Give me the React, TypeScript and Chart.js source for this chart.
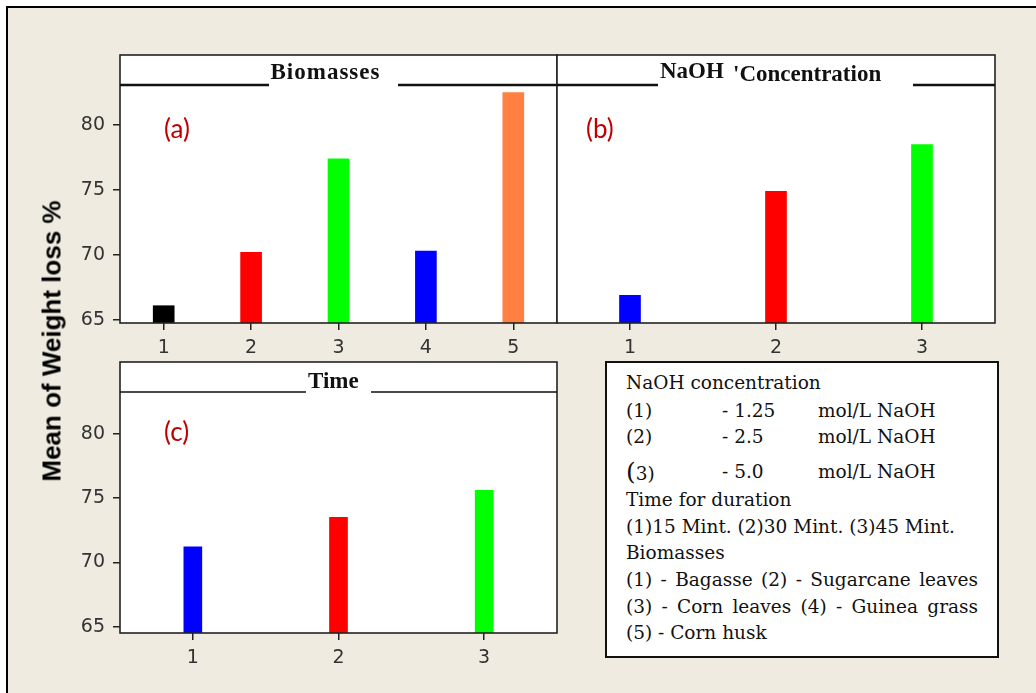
import React, { useEffect, useRef } from "react";
import { Chart, registerables } from "chart.js";

Chart.register(...registerables);

// ---------- data ----------
const biomassLabels = ["1", "2", "3", "4", "5"];
const biomassValues = [66.1, 70.2, 77.4, 70.3, 82.5];
const biomassColors = ["#000000", "#FF0000", "#00FF00", "#0000FF", "#FF8040"];

const naohLabels = ["1", "2", "3"];
const naohValues = [66.9, 74.9, 78.5];
const naohColors = ["#0000FF", "#FF0000", "#00FF00"];

const timeLabels = ["1", "2", "3"];
const timeValues = [71.2, 73.5, 75.6];
const timeColors = ["#0000FF", "#FF0000", "#00FF00"];

const yTickValues = [65, 70, 75, 80];

const yAxisTitle = "Mean of Weight loss %";

const legendNaohTitle = "NaOH concentration";
const legendNaohRows = [
  ["(1)", "- 1.25", "mol/L NaOH"],
  ["(2)", "- 2.5", "mol/L NaOH"],
  ["(3)", "- 5.0", "mol/L NaOH"],
];
const legendTimeTitle = "Time for duration";
const legendTimeRow = "(1)15 Mint. (2)30 Mint. (3)45 Mint.";
const legendBiomassTitle = "Biomasses";
const legendBiomassRows = [
  "(1) - Bagasse (2) - Sugarcane leaves",
  "(3) - Corn leaves (4) - Guinea grass",
  "(5) - Corn husk",
];

// ---------- helpers ----------
const tickFont = { family: '"DejaVu Sans", sans-serif', size: 19 };

function xAxis(height: number) {
  return {
    type: "category",
    offset: true,
    grid: {
      display: true,
      drawOnChartArea: false,
      drawTicks: true,
      tickLength: 7,
      color: "#222",
      lineWidth: 1.5,
      offset: false,
    },
    border: { display: false },
    ticks: { color: "#333", font: tickFont, padding: 7, maxRotation: 0 },
    afterFit: (s: any) => {
      s.height = height;
    },
  };
}

function yAxis(min: number, max: number, show: boolean) {
  return {
    display: show,
    min,
    max,
    grid: {
      display: true,
      drawOnChartArea: false,
      drawTicks: true,
      tickLength: 7,
      color: "#222",
      lineWidth: 1.5,
    },
    border: { display: false },
    ticks: { color: "#333", font: tickFont, padding: 8 },
    afterBuildTicks: (s: any) => {
      s.ticks = yTickValues.map((v) => ({ value: v }));
    },
    afterFit: (s: any) => {
      if (show) s.width = 120;
    },
  };
}

type Title = { text: string; x: number; y: number; spacing?: number };
type FrameCfg = {
  headerH: number;
  lineWidth: number;
  gapFrom: number;
  gapTo: number;
  titles: Title[];
  tag: string;
  tagX: number;
  tagY: number;
};

function framePlugin(cfg: FrameCfg) {
  return {
    id: "panelFrame",
    beforeDraw(chart: any) {
      const { ctx, chartArea: a } = chart;
      ctx.save();
      ctx.fillStyle = "#ffffff";
      ctx.fillRect(a.left, a.top - cfg.headerH, a.right - a.left, a.bottom - a.top + cfg.headerH);
      ctx.restore();
    },
    afterDraw(chart: any) {
      const { ctx, chartArea: a } = chart;
      ctx.save();
      ctx.strokeStyle = "#222";
      ctx.lineWidth = 1.6;
      ctx.strokeRect(a.left, a.top - cfg.headerH, a.right - a.left, a.bottom - a.top + cfg.headerH);
      ctx.lineWidth = cfg.lineWidth;
      ctx.strokeStyle = "#111";
      ctx.beginPath();
      ctx.moveTo(a.left, a.top);
      ctx.lineTo(cfg.gapFrom, a.top);
      ctx.moveTo(cfg.gapTo, a.top);
      ctx.lineTo(a.right, a.top);
      ctx.stroke();
      ctx.fillStyle = "#111";
      ctx.textBaseline = "middle";
      ctx.textAlign = "left";
      ctx.font = 'bold 23px "Liberation Serif", serif';
      for (const t of cfg.titles) {
        (ctx as any).letterSpacing = (t.spacing || 0) + "px";
        ctx.fillText(t.text, t.x, t.y);
      }
      (ctx as any).letterSpacing = "0px";
      ctx.font = '26px Lato, "Open Sans", sans-serif';
      ctx.fillStyle = "#C00000";
      ctx.fillText(cfg.tag, cfg.tagX, cfg.tagY);
      ctx.restore();
    },
  };
}

function barConfig(
  labels: string[],
  values: number[],
  colors: string[],
  thickness: number,
  yMin: number,
  yMax: number,
  showY: boolean,
  xHeight: number,
  padding: any,
  frame: FrameCfg
): any {
  return {
    type: "bar",
    data: {
      labels,
      datasets: [
        {
          data: values,
          backgroundColor: colors,
          borderWidth: 0,
          barThickness: thickness,
          base: yMin,
        },
      ],
    },
    options: {
      responsive: false,
      animation: false,
      layout: { padding },
      plugins: { legend: { display: false }, tooltip: { enabled: false } },
      scales: {
        x: xAxis(xHeight),
        y: yAxis(yMin, yMax, showY),
      },
    },
    plugins: [framePlugin(frame)],
  };
}

function ChartCanvas(props: { left: number; top: number; width: number; height: number; make: () => any }) {
  const ref = useRef<HTMLCanvasElement | null>(null);
  useEffect(() => {
    if (!ref.current) return;
    const chart = new Chart(ref.current, props.make());
    return () => chart.destroy();
  }, []);
  return (
    <canvas
      ref={ref}
      width={props.width}
      height={props.height}
      style={{ position: "absolute", left: props.left, top: props.top, width: props.width, height: props.height }}
    />
  );
}

const makeA = () =>
  barConfig(biomassLabels, biomassValues, biomassColors, 21, 64.77, 83.08, true, 47,
    { top: 85, right: 13, left: 0, bottom: 0 },
    {
      headerH: 30,
      lineWidth: 2.6,
      gapFrom: 269,
      gapTo: 398,
      titles: [{ text: "Biomasses", x: 270.5, y: 73, spacing: 1 }],
      tag: "(a)",
      tagX: 164,
      tagY: 130,
    });

const makeB = () =>
  barConfig(naohLabels, naohValues, naohColors, 21, 64.77, 83.08, false, 47,
    { top: 85, right: 41, left: 7, bottom: 0 },
    {
      headerH: 30,
      lineWidth: 2.6,
      gapFrom: 108,
      gapTo: 363,
      titles: [
        { text: "NaOH", x: 110, y: 72 },
        { text: "'Concentration", x: 183, y: 75 },
      ],
      tag: "(b)",
      tagX: 36,
      tagY: 130,
    });

const makeC = () =>
  barConfig(timeLabels, timeValues, timeColors, 18, 64.51, 83.24, true, 60,
    { top: 52, right: 13, left: 0, bottom: 0 },
    {
      headerH: 30,
      lineWidth: 1.7,
      gapFrom: 306,
      gapTo: 371,
      titles: [{ text: "Time", x: 308, y: 42 }],
      tag: "(c)",
      tagX: 164,
      tagY: 93,
    });

const rowTops = [8, 36, 62, 97, 125, 152, 178, 205, 232, 258];

export default function App() {
  const lineStyle = (i: number): React.CSSProperties => ({
    position: "absolute",
    left: 19,
    top: rowTops[i],
    height: 24,
    lineHeight: "24px",
    whiteSpace: "nowrap",
  });
  return (
    <div
      style={{
        position: "absolute",
        left: 0,
        top: 0,
        width: 1036,
        height: 693,
        overflow: "hidden",
        background: "#ffffff",
      }}
    >
      <div
        style={{
          position: "absolute",
          left: 6,
          top: 6,
          width: 1100,
          height: 800,
          borderLeft: "2px solid #000",
          borderTop: "2px solid #000",
          background: "#EFEBE0",
        }}
      />
      <ChartCanvas left={0} top={0} width={570} height={370} make={makeA} />
      <ChartCanvas left={550} top={0} width={486} height={370} make={makeB} />
      <ChartCanvas left={0} top={340} width={570} height={353} make={makeC} />
      <div
        style={{
          position: "absolute",
          left: 52,
          top: 341,
          transform: "translate(-50%, -50%) rotate(-90deg)",
          whiteSpace: "nowrap",
          font: 'bold 26px "Liberation Sans", Arial, sans-serif',
          color: "#000",
        }}
      >
        {yAxisTitle}
      </div>
      <div
        style={{
          position: "absolute",
          left: 605,
          top: 361,
          width: 394,
          height: 297,
          boxSizing: "border-box",
          border: "2px solid #111",
          background: "#fff",
          fontFamily: '"DejaVu Serif", serif',
          fontSize: 18.5,
          color: "#111",
        }}
      >
        <div style={lineStyle(0)}>{legendNaohTitle}</div>
        {legendNaohRows.map((r, i) => (
          <div key={i} style={{ ...lineStyle(i + 1), width: 360 }}>
            <span style={{ position: "absolute", left: 0 }}>
              {i === 2 ? (
                <>
                  <span style={{ fontSize: 25, lineHeight: "24px" }}>(</span>
                  {r[0].slice(1)}
                </>
              ) : (
                r[0]
              )}
            </span>
            <span style={{ position: "absolute", left: 96 }}>{r[1]}</span>
            <span style={{ position: "absolute", left: 192 }}>{r[2]}</span>
          </div>
        ))}
        <div style={lineStyle(4)}>{legendTimeTitle}</div>
        <div style={lineStyle(5)}>{legendTimeRow}</div>
        <div style={lineStyle(6)}>{legendBiomassTitle}</div>
        {legendBiomassRows.map((r, i) => (
          <div
            key={i}
            style={{
              ...lineStyle(7 + i),
              width: i < 2 ? 352 : undefined,
              textAlign: i < 2 ? "justify" : "left",
              textAlignLast: i < 2 ? "justify" : "auto",
              whiteSpace: i < 2 ? "normal" : "nowrap",
            }}
          >
            {r}
          </div>
        ))}
      </div>
    </div>
  );
}
